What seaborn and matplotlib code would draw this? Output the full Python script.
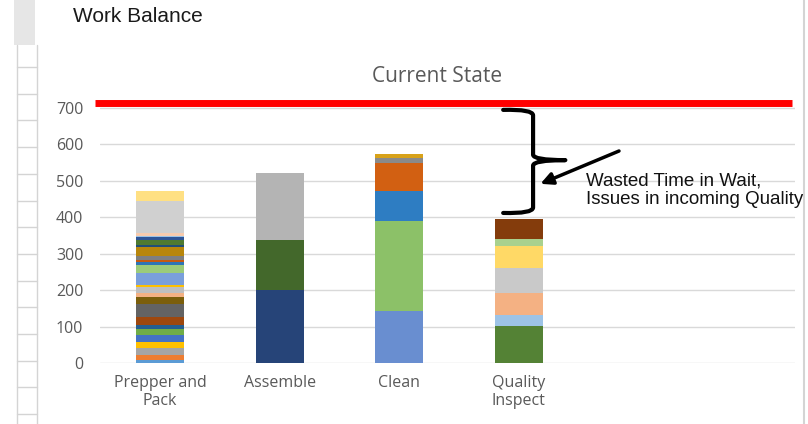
import numpy as np
import pandas as pd
import matplotlib
matplotlib.use('Agg')
import matplotlib.pyplot as plt
from matplotlib.path import Path
from matplotlib.patches import PathPatch, Rectangle
from matplotlib.lines import Line2D
import seaborn as sns

sns.set_theme(style='white')
plt.rcParams['font.family'] = ['Open Sans', 'DejaVu Sans']

# --- data (stacked segments, bottom to top) ---
categories = ['Prepper and\nPack', 'Assemble', 'Clean', 'Quality\nInspect']

prep_values = [7, 15, 18, 19, 18, 17, 11, 20, 37, 20, 9, 17, 6, 32, 2, 20, 9, 5, 12, 24, 7, 13, 7, 4, 8, 87, 29]
prep_colors = ['#5B9BD5', '#ED7D31', '#A5A5A5', '#FFC000', '#4472C4', '#70AD47', '#255E91', '#9E480E',
               '#636363', '#7B5E0B', '#F4B183', '#BFBFBF', '#FFC000', '#7A9FDB', '#9DC3E6', '#9BCB7A',
               '#2E75B6', '#C55A11', '#7F7F7F', '#B8860B', '#1F4E79', '#4E7A31', '#2F5597', '#9DC3E6',
               '#F8CBAD', '#D0D0D0', '#FFE083']

assemble_values = [200, 138, 185]
assemble_colors = ['#264478', '#43682B', '#B4B4B4']

clean_values = [143, 247, 82, 76, 14, 11]
clean_colors = ['#698ED0', '#8CC168', '#2E7DC2', '#D26012', '#8A8A8A', '#D8A219']

quality_values = [102, 29, 62, 69, 58, 20, 55]
quality_colors = ['#548235', '#9DC3E6', '#F4B183', '#C9C9C9', '#FFD966', '#A9D18E', '#843C0C']

target_time = 715
y_ticks = [0, 100, 200, 300, 400, 500, 600, 700]

stacks = [(prep_values, prep_colors), (assemble_values, assemble_colors),
          (clean_values, clean_colors), (quality_values, quality_colors)]

fig = plt.figure(figsize=(8.08, 4.24), dpi=100)
ax = fig.add_axes([0.1238, 0.1439, 0.860, 0.627])

# stacked bars: draw cumulative tops from the highest down so lower segments overlay
for cat, (vals, cols) in zip(categories, stacks):
    seg = pd.DataFrame({'cat': cat, 'top': np.cumsum(vals), 'color': cols})
    for _, row in seg.iloc[::-1].iterrows():
        sns.barplot(x=[row['cat']], y=[row['top']], order=categories, color=row['color'],
                    width=0.4, saturation=1, errorbar=None, linewidth=0, ax=ax, zorder=3)

ax.set_xlim(-0.502, 5.31)
ax.set_ylim(0, 730)
ax.set_yticks(y_ticks)
ax.set_xlabel('')
ax.set_ylabel('')
ax.grid(axis='y', color='#D9D9D9', linewidth=1, zorder=0)
ax.set_axisbelow(True)
for s in ax.spines.values():
    s.set_visible(False)
ax.tick_params(axis='y', length=0, pad=12, labelsize=11.5, labelcolor='#595959')
ax.tick_params(axis='x', length=0, pad=9, labelsize=11.5, labelcolor='#595959')
for lbl in ax.get_xticklabels():
    lbl.set_linespacing(1.1)

# target line
ax.axhline(target_time, xmin=-0.007, xmax=0.996, color='#FF0000', linewidth=5,
           solid_capstyle='butt', zorder=4, clip_on=False)

# curly brace for wasted time
verts = [(2.87, 695), (3.12, 697), (3.12, 680),
         (3.12, 572),
         (3.12, 557), (3.39, 557),
         (3.12, 557), (3.12, 542),
         (3.12, 427),
         (3.12, 410), (2.87, 412)]
codes = [Path.MOVETO, Path.CURVE3, Path.CURVE3,
         Path.LINETO,
         Path.CURVE3, Path.CURVE3,
         Path.CURVE3, Path.CURVE3,
         Path.LINETO,
         Path.CURVE3, Path.CURVE3]
ax.add_patch(PathPatch(Path(verts, codes), facecolor='none', edgecolor='black',
                       linewidth=3, capstyle='round', joinstyle='round', zorder=5))

ax.annotate('', xy=(3.16, 489), xytext=(3.86, 585),
            arrowprops=dict(arrowstyle='-|>', color='black', lw=2.5, mutation_scale=18),
            zorder=5)
ax.text(3.56, 524, 'Wasted Time in Wait,\nIssues in incoming Quality',
        family=['Liberation Sans', 'DejaVu Sans'], fontsize=13.5, color='#111111',
        ha='left', va='top', linespacing=1.15)

fig.text(0.5415, 0.8066, 'Current State', ha='center', va='baseline',
         fontsize=15, color='#595959')
fig.text(0.0903, 0.948, 'Work Balance', ha='left', va='baseline',
         family=['Liberation Sans', 'DejaVu Sans'], fontsize=15, color='#1A1A1A')

# spreadsheet frame around the chart
fig.add_artist(Rectangle((14 / 808, 1 - 45 / 424), 21 / 808, 45 / 424,
                         transform=fig.transFigure, facecolor='#E6E6E6', edgecolor='none'))
for xp in [17, 37]:
    fig.add_artist(Line2D([xp / 808, xp / 808], [0, 1 - 45 / 424], transform=fig.transFigure,
                          color='#D4D4D4', linewidth=1))
for yp in np.arange(67, 424, 26.7):
    fig.add_artist(Line2D([17 / 808, 37 / 808], [1 - yp / 424, 1 - yp / 424],
                          transform=fig.transFigure, color='#D4D4D4', linewidth=1))
fig.add_artist(Line2D([804 / 808, 804 / 808], [0, 1], transform=fig.transFigure,
                      color='#D4D4D4', linewidth=1.5))

fig.savefig('out.png', dpi=100)
